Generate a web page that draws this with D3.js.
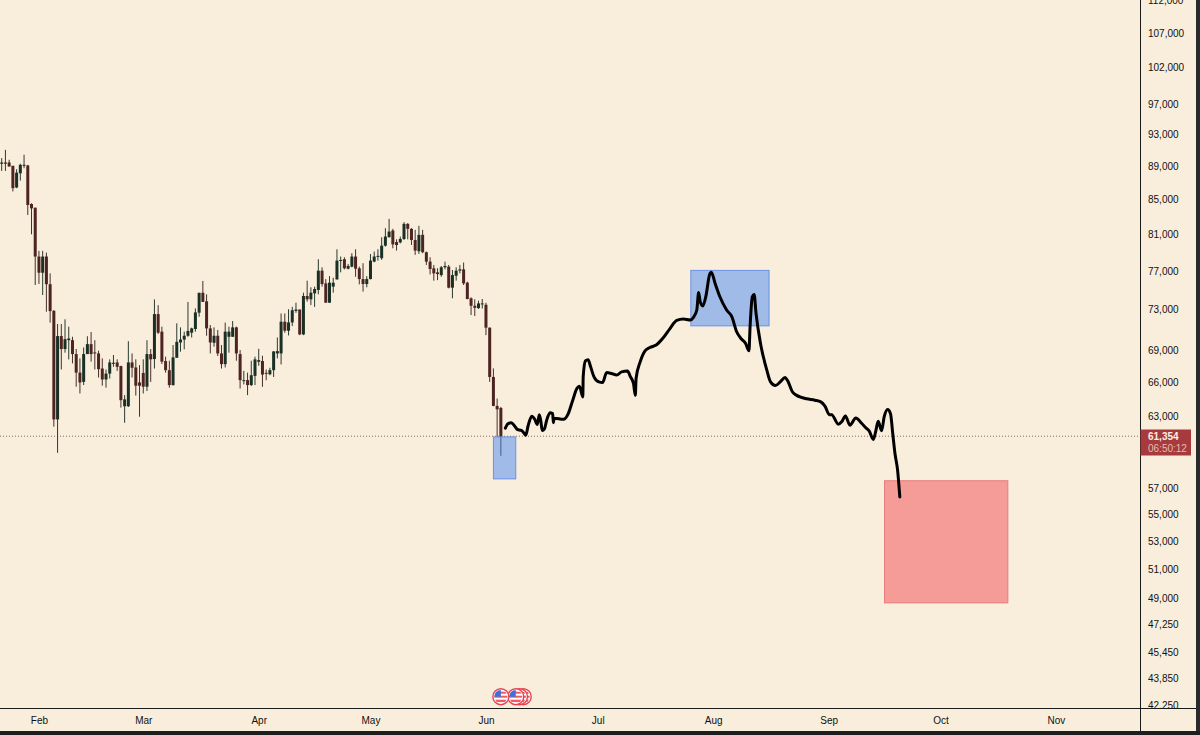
<!DOCTYPE html>
<html>
<head>
<meta charset="utf-8">
<script src="https://cdn.jsdelivr.net/npm/d3@7"></script>
<style>
  html, body { margin: 0; padding: 0; background: #f9eedc; overflow: hidden; }
  text { font-family: "Liberation Sans", Arial, sans-serif; }
</style>
</head>
<body>
<div id="canvas"></div>
<script>
// daily candles, first one is 22 Jan
var firstDay = Date.UTC(2026, 0, 22);
var opens = [89300,89460,89460,89050,86420,88130,89050,89090,84470,84040,
  78550,76810,78550,75600,72870,62710,70370,69120,69970,69970,
  68640,66900,66050,68640,69590,68800,68700,67280,66270,66810,
  67720,67850,67510,63860,63860,67850,67380,66000,66870,65610,
  68640,68170,72540,70800,67980,67130,65760,68290,69750,70030,
  70400,70700,71060,72680,74710,73830,71120,69720,70400,68700,
  67690,70300,70300,71220,68640,66150,66210,65760,66600,67910,
  67980,66880,66750,67130,68700,68700,71780,70890,71710,72860,
  73000,70530,74380,74040,74650,75000,77030,75690,73690,75350,
  76100,78070,78260,77240,77460,78550,77280,76140,75620,76140,
  78000,78510,78370,79740,80670,81430,80140,80100,80480,82180,
  81620,80370,79130,80940,79020,78000,77280,76850,76560,77390,
  77460,75240,76490,77030,77170,75760,74140,73380,73140,73520,
  73480,71190,66500,63890,63710];
var highs = [90000,91040,89800,89050,88630,89300,90420,89170,84550,84040,
  79170,79170,78980,76740,72940,71550,71550,72020,71290,70300,
  69120,68230,69270,70350,70760,69970,68960,68230,67190,68140,
  68550,68140,67540,64850,69870,68700,68140,67600,68140,69970,
  69120,74030,73440,71290,68390,68010,69500,71620,71220,70800,
  73770,71190,73110,74710,75940,74550,71450,71220,70960,69500,
  71690,71290,71850,71290,69020,67060,66900,68010,68390,69140,
  68480,67190,67350,68920,70230,72600,72600,73030,73270,73690,
  73000,74720,75970,75280,75350,78260,77390,76140,76450,76280,
  79340,78550,78470,77750,78910,79340,77460,77830,76450,78830,
  79090,79340,80670,81690,82750,81620,80440,80750,82370,82260,
  81690,81500,81960,81500,79090,78470,77640,77280,77530,78000,
  77640,77100,77390,77640,77900,75860,74240,74040,73900,74070,
  73690,71220,67290,64550,63800];
var lows = [88420,88420,88960,85950,86340,87250,88750,83200,81000,75520,
  75630,74480,72780,71690,62080,59880,67190,68770,68140,67760,
  65610,65000,65760,68640,67920,67190,66450,65700,65520,66360,
  67440,67060,63740,62420,63800,66450,64810,62940,65000,65220,
  66050,67280,70570,67700,66900,65520,65700,68290,68870,69090,
  70300,70230,70800,72280,73770,70400,68700,69340,68450,67280,
  67380,68770,70300,68010,65450,65820,64850,65670,65760,67540,
  65600,66200,66660,66500,68230,67660,70690,70430,71350,72670,
  70460,70460,73800,73450,73270,74550,75350,73690,73690,74720,
  76100,76850,77170,77170,77390,76380,75580,74830,75280,76100,
  77930,78110,78190,79630,80670,79450,79200,79990,80370,80440,
  79810,78730,78840,78910,77640,76630,75970,76030,76380,77170,
  75170,74140,75970,76740,75520,74040,72440,72340,73070,73100,
  70460,66050,63860,61210,59630];
var closes = [89460,89300,88960,86340,88210,89170,89170,84350,83960,78550,
  76810,78550,75600,72840,62710,70370,69120,70070,70130,68640,
  66900,65990,68640,69590,68640,68700,67220,66270,66810,67850,
  67820,67440,64400,64470,67850,67350,65700,65700,65610,68640,
  68140,72540,70700,67920,67130,65760,68320,69810,70030,70400,
  70870,71120,72710,74710,73770,71120,69750,70400,68700,67690,
  70800,70800,71220,68700,66210,66210,65760,66660,68140,68070,
  66720,66790,67130,68890,68920,71780,70890,71710,72930,73000,
  70530,74380,74040,74720,75100,77030,75620,73690,75760,75760,
  78110,78180,77280,77530,78550,77240,76140,75620,76140,78110,
  78550,78620,79740,80750,81310,79880,79810,80480,82180,81620,
  80370,79200,80940,79020,78000,77210,76740,76670,77390,77530,
  75240,76560,77030,77170,75690,74070,73380,73170,73620,73620,
  71190,66500,63890,63590,61210];

// hand drawn projection: days after firstDay, price
var penDays = [135.2,135.9,136.8,137.7,138.4,139.5,140.2,140.7,141.3,142.3,143.1,143.8,144.3,144.7,145.1,145.7,146.3,147.2,147.9,148.1,148.3,
  150.8,152.1,153.3,154.4,155.1,156.0,156.1,156.7,157.4,158.1,159.0,160.3,161.3,162.4,163.7,165.1,166.4,168.0,168.8,169.6,170.1,170.3,
  171.4,172.7,174.0,175.7,177.6,179.4,181.2,183.0,184.8,185.7,186.6,187.1,187.5,188.2,189.1,190.0,190.5,191.5,192.8,194.6,196.0,197.3,
  198.6,199.7,200.6,200.9,201.5,202.0,202.5,203.7,205.4,206.4,207.7,209.0,210.3,210.9,212.3,213.4,214.3,
  216.1,218.3,219.9,221.0,222.2,222.8,224.6,225.5,226.5,227.7,229.3,230.9,232.0,232.9,234.0,234.7,235.3,236.2,236.9,237.8,238.6,239.2,239.8,240.5,241.1];
var penPrices = [61960,62340,62430,62140,61850,61760,61550,61350,62140,62990,62720,62280,63110,62640,61760,61900,62640,63290,63220,62430,62810,
  62720,63220,64400,65440,65660,64690,66510,67990,68110,67440,66510,66050,65990,66910,66820,66670,66970,67040,66510,65900,64830,66360,
  67900,68950,69270,69500,70210,71100,71910,72050,71950,72220,72950,74750,73800,73360,74470,76580,76860,75700,74300,72950,72280,70790,
  70080,69660,68950,71270,74300,74540,72620,69660,67130,66050,65720,66050,66450,66210,65130,64830,64690,
  64520,64400,64250,63870,63120,63120,62300,62500,63010,62210,62840,62350,61980,61700,60990,61790,62550,61730,62920,63570,63210,61500,59820,58460,56330];

// boxes: start day, end day, top price, bottom price
var boxStart = [132, 185, 237];
var boxEnd = [138, 206, 270.1];
var boxTop = [61210, 77060, 57610];
var boxBottom = [57760, 71370, 48660];
var boxKind = ["blue", "blue", "red"];

var priceTicks = [112000,107000,102000,97000,93000,89000,85000,81000,77000,73000,69000,66000,63000,57000,55000,53000,51000,49000,47250,45450,43850,42250];
var monthTicks = [[2026,1],[2026,2],[2026,3],[2026,4],[2026,5],[2026,6],[2026,7],[2026,8],[2026,9],[2026,10]];
var eventDays = [140, 139, 138, 134];
var lastPrice = 61354;
var countdown = "06:50:12";

var width = 1200, height = 735;
var plotRight = 1140.5, plotBottom = 708.5;
var bg = "#f9eedc";

var dayDate = (d) => { return new Date(firstDay + d * 86400000); };

var x = d3.scaleUtc()
  .domain([dayDate(0), dayDate(283)])
  .range([1.7, 1055.9]);
var y = d3.scaleLog()
  .domain([42250, 107000])
  .range([705, 33]);

var svg = d3.select("#canvas").append("svg")
  .attr("width", width)
  .attr("height", height)
  .style("display", "block");

svg.append("rect").attr("width", width).attr("height", height).attr("fill", bg);

// last price line
svg.append("line")
  .attr("x1", 0).attr("x2", plotRight)
  .attr("y1", y(lastPrice) + 1).attr("y2", y(lastPrice) + 1)
  .attr("stroke", "#8a6a5c")
  .attr("stroke-width", 1)
  .attr("stroke-dasharray", "1,2");

// candles
var g = svg.append("g");
var candles = g.selectAll("g.candle").data(opens).enter().append("g")
  .attr("class", "candle")
  .attr("fill", (d, i) => { return closes[i] >= d ? "#1a3025" : "#4e2423"; })
  .attr("stroke", (d, i) => { return closes[i] >= d ? "#2a3a30" : "#43302c"; });
candles.append("line")
  .attr("x1", (d, i) => { return x(dayDate(i)); })
  .attr("x2", (d, i) => { return x(dayDate(i)); })
  .attr("y1", (d, i) => { return y(highs[i]); })
  .attr("y2", (d, i) => { return y(lows[i]); })
  .attr("stroke-width", 1);
candles.append("rect")
  .attr("x", (d, i) => { return x(dayDate(i)) - 1.5; })
  .attr("width", 3)
  .attr("y", (d, i) => { return y(Math.max(d, closes[i])); })
  .attr("height", (d, i) => { return Math.max(1, y(Math.min(d, closes[i])) - y(Math.max(d, closes[i]))); })
  .attr("stroke", "none");

// boxes
svg.selectAll("rect.box").data(boxStart).enter().append("rect")
  .attr("class", "box")
  .attr("x", (d) => { return x(dayDate(d)); })
  .attr("width", (d, i) => { return x(dayDate(boxEnd[i])) - x(dayDate(d)); })
  .attr("y", (d, i) => { return y(boxTop[i]); })
  .attr("height", (d, i) => { return y(boxBottom[i]) - y(boxTop[i]); })
  .attr("fill", (d, i) => { return boxKind[i] == "blue" ? "rgba(71,136,244,0.5)" : "rgba(241,74,84,0.5)"; })
  .attr("stroke", (d, i) => { return boxKind[i] == "blue" ? "#6a90e8" : "#e77c7c"; })
  .attr("stroke-width", 1);

// hand drawn line
var pen = d3.line()
  .x((d) => { return x(dayDate(d)); })
  .y((d, i) => { return y(penPrices[i]); })
  .curve(d3.curveMonotoneX);
svg.append("path")
  .attr("d", pen(penDays))
  .attr("fill", "none")
  .attr("stroke", "#000")
  .attr("stroke-width", 3)
  .attr("stroke-linecap", "round")
  .attr("stroke-linejoin", "round");

// event flags
var defs = svg.append("defs");
defs.append("clipPath").attr("id", "flagClip").append("circle").attr("r", 6.6);
var flags = svg.selectAll("g.flag").data(eventDays).enter().append("g")
  .attr("class", "flag")
  .attr("transform", (d) => { return "translate(" + x(dayDate(d)) + ",696.7)"; });
flags.append("circle").attr("r", 8).attr("fill", "#fff").attr("stroke", "#e8424f").attr("stroke-width", 1.4);
var inner = flags.append("g").attr("clip-path", "url(#flagClip)");
inner.append("rect").attr("x", -7).attr("y", -7).attr("width", 14).attr("height", 14).attr("fill", "#fff");
inner.append("rect").attr("x", -7).attr("y", -5).attr("width", 14).attr("height", 2).attr("fill", "#ef5a64");
inner.append("rect").attr("x", -7).attr("y", -1).attr("width", 14).attr("height", 2).attr("fill", "#ef5a64");
inner.append("rect").attr("x", -7).attr("y", 3).attr("width", 14).attr("height", 2.4).attr("fill", "#ef5a64");
inner.append("rect").attr("x", -7).attr("y", -7).attr("width", 7).attr("height", 7).attr("fill", "#3f6fd8");

// price axis
var rightAxis = d3.axisRight(y)
  .tickValues(priceTicks)
  .tickSize(0)
  .tickPadding(7.5)
  .tickFormat(d3.format(","));
var yAxis = svg.append("g")
  .attr("class", "y axis")
  .attr("transform", "translate(" + plotRight + ",0)")
  .call(rightAxis);
yAxis.select(".domain").remove();
yAxis.selectAll("text")
  .attr("font-size", "10px")
  .attr("fill", "#111")
  .style("font-family", '"Liberation Sans", Arial, sans-serif');

// time axis strip covers the clipped bottom label
svg.append("rect").attr("x", 0).attr("y", plotBottom).attr("width", width).attr("height", height - plotBottom).attr("fill", bg);
var bottomAxis = d3.axisBottom(x)
  .tickValues(monthTicks.map((d) => { return new Date(Date.UTC(d[0], d[1], 1)); }))
  .tickSize(0)
  .tickPadding(8)
  .tickFormat(d3.utcFormat("%b"));
var xAxis = svg.append("g")
  .attr("class", "x axis")
  .attr("transform", "translate(0," + plotBottom + ")")
  .call(bottomAxis);
xAxis.select(".domain").remove();
xAxis.selectAll("text")
  .attr("font-size", "10px")
  .attr("fill", "#111")
  .style("font-family", '"Liberation Sans", Arial, sans-serif');

// frame lines
svg.append("line").attr("x1", 0).attr("x2", 1196).attr("y1", plotBottom).attr("y2", plotBottom).attr("stroke", "#1a1a1a").attr("stroke-width", 1);
svg.append("line").attr("x1", plotRight).attr("x2", plotRight).attr("y1", 0).attr("y2", 731).attr("stroke", "#1a1a1a").attr("stroke-width", 1);

// last price badge
svg.append("rect").attr("x", plotRight).attr("y", 429.5).attr("width", 50.5).attr("height", 26).attr("fill", "#a63a3d");
svg.append("text").attr("x", 1148).attr("y", 440).attr("font-size", "10px").attr("font-weight", "bold").attr("fill", "#fdeee6").text(d3.format(",")(lastPrice));
svg.append("text").attr("x", 1148).attr("y", 452).attr("font-size", "10px").attr("fill", "#eab9b4").text(countdown);

// screenshot edge
svg.append("rect").attr("x", 1196).attr("y", 0).attr("width", 4).attr("height", height).attr("fill", "#2a2a2a");
svg.append("rect").attr("x", 0).attr("y", 731).attr("width", width).attr("height", 4).attr("fill", "#1e1e1e");
</script>
</body>
</html>
